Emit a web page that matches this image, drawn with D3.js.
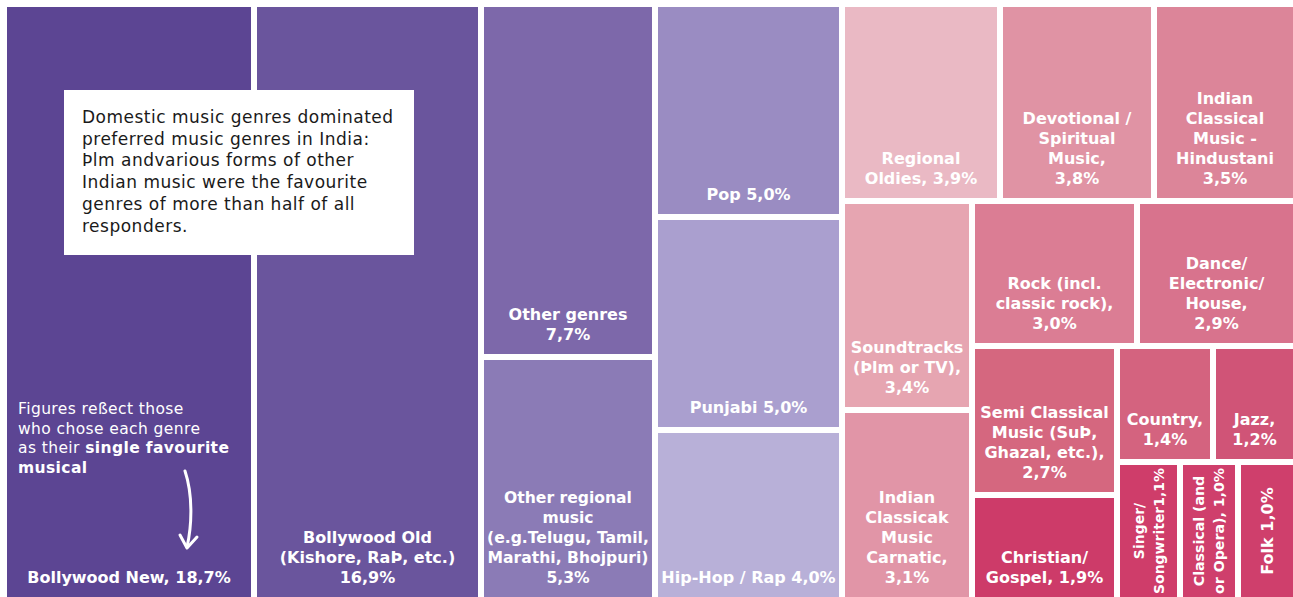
<!DOCTYPE html>
<html>
<head>
<meta charset="utf-8">
<script src="https://cdn.jsdelivr.net/npm/d3@7"></script>
<style>
    html, body { margin: 0; padding: 0; background: #fff; }
    svg { display: block; }
    .lbl { font-family: "DejaVu Sans", sans-serif; font-weight: bold; fill: #fff; }
    .note { font-family: "DejaVu Sans", sans-serif; }
</style>
</head>
<body>
<div id="chart"></div>
<script>
var WIDTH = 1293, HEIGHT = 597,
    LEFT = 7, TOP = 7;

// genres, shares (%) and colours
var genres = [
    "Bollywood New", "Bollywood Old", "Other genres", "Other regional music",
    "Pop", "Punjabi", "Hip-Hop / Rap",
    "Regional Oldies", "Devotional / Spiritual Music", "Indian Classical Music - Hindustani",
    "Soundtracks", "Indian Classical Music Carnatic",
    "Rock", "Dance/Electronic/House",
    "Semi Classical Music", "Christian/Gospel",
    "Country", "Jazz",
    "Singer/Songwriter", "Classical", "Folk"
];
var values = [
    18.7, 16.9, 7.7, 5.3,
    5.0, 5.0, 4.0,
    3.9, 3.8, 3.5,
    3.4, 3.1,
    3.0, 2.9,
    2.7, 1.9,
    1.4, 1.2,
    1.1, 1.0, 1.0
];
var colors = [
    "#5c4593", "#6a559d", "#7d68aa", "#8b7bb6",
    "#9a8cc2", "#aa9fcf", "#b8b0d8",
    "#eab9c4", "#e093a4", "#dc8599",
    "#e6a5b1", "#e195a7",
    "#db7d94", "#d8738d",
    "#d5677f", "#cd3b69",
    "#d4637f", "#d05477",
    "#cf3d6a", "#cf3f6c", "#cf3f6c"
];
// label lines, {v} = share
var labels = [
    ["Bollywood New, {v}"],
    ["Bollywood Old", "(Kishore, RaÞ, etc.)", "{v}"],
    ["Other genres", "{v}"],
    ["Other regional", "music", "(e.g.Telugu, Tamil,", "Marathi, Bhojpuri)", "{v}"],
    ["Pop {v}"],
    ["Punjabi {v}"],
    ["Hip-Hop / Rap {v}"],
    ["Regional", "Oldies, {v}"],
    ["Devotional /", "Spiritual", "Music,", "{v}"],
    ["Indian", "Classical", "Music -", "Hindustani", "{v}"],
    ["Soundtracks", "(Þlm or TV),", "{v}"],
    ["Indian", "Classicak", "Music", "Carnatic,", "{v}"],
    ["Rock (incl.", "classic rock),", "{v}"],
    ["Dance/", "Electronic/", "House,", "{v}"],
    ["Semi Classical", "Music (SuÞ,", "Ghazal, etc.),", "{v}"],
    ["Christian/", "Gospel, {v}"],
    ["Country,", "{v}"],
    ["Jazz,", "{v}"],
    ["Singer/", "Songwriter{v}"],
    ["Classical (and", "or Opera),  {v}"],
    ["Folk {v}"]
];
// labels written bottom-to-top
var rotated = [18, 19, 20];

// nesting of the blocks (index into genres), split direction alternates by depth
var nesting = [0, 1, [2, 3], [4, 5, 6],
    [[7, 8, 9],
     [[10, 11],
      [[12, 13],
       [[14, 15],
        [[16, 17], [18, 19, 20]]]]]]];

var noteLines = [
    "Domestic music genres dominated",
    "preferred music genres in India:",
    "Þlm andvarious forms of other",
    "Indian music were the favourite",
    "genres of more than half of all",
    "responders."
];

function fmt(v) {
    return v.toFixed(1).replace(".", ",") + "%";
}

function toNode(x) {
    return Array.isArray(x) ? { children: x.map(toNode) } : { i: x };
}

var svg = d3.select("#chart").append("svg")
    .attr("width", WIDTH)
    .attr("height", HEIGHT);

var root = d3.hierarchy(toNode(nesting))
    .sum(function (d) { return d.i !== undefined ? values[d.i] : 0; });

d3.treemap()
    .tile(d3.treemapSliceDice)
    .size([WIDTH - LEFT, HEIGHT - TOP])
    .paddingInner(6)
    .round(true)(root);

var map = svg.append("g").attr("transform", "translate(" + LEFT + "," + TOP + ")");

var cell = map.selectAll("g.cell")
    .data(root.leaves())
    .enter().append("g")
    .attr("class", "cell");

cell.append("rect")
    .attr("x", function (d) { return d.x0; })
    .attr("y", function (d) { return d.y0; })
    .attr("width", function (d) { return d.x1 - d.x0; })
    .attr("height", function (d) { return d.y1 - d.y0; })
    .attr("fill", function (d) { return colors[d.data.i]; });

var LINE = 20, FS = 16, PAD = 14;

cell.each(function (d) {
    var i = d.data.i,
        g = d3.select(this),
        lines = labels[i].map(function (s) { return s.replace("{v}", fmt(values[i])); }),
        rot = rotated.indexOf(i) >= 0,
        n = lines.length,
        w = d.x1 - d.x0, h = d.y1 - d.y0;

    var txt = g.append("text").attr("class", "lbl")
        .attr("text-anchor", "middle")
        .style("font-size", FS + "px");

    lines.forEach(function (s) { txt.append("tspan").text(s); });

    // shrink the label if a line does not fit
    var maxW = 0;
    txt.selectAll("tspan").each(function () {
        maxW = Math.max(maxW, this.getComputedTextLength());
    });
    var avail = (rot ? h : w) - 6,
        size = maxW > avail ? FS * avail / maxW : FS;
    txt.style("font-size", size + "px");

    if (rot) {
        var cx = (d.x0 + d.x1) / 2, cy = (d.y0 + d.y1) / 2;
        txt.attr("transform", "translate(" + cx + "," + cy + ") rotate(-90)");
        txt.selectAll("tspan")
            .attr("x", 0)
            .attr("y", function (s, k) { return (k - (n - 1) / 2) * LINE + size * 0.36; });
    } else {
        var x = (d.x0 + d.x1) / 2;
        txt.selectAll("tspan")
            .attr("x", x)
            .attr("y", function (s, k) { return d.y1 - PAD - (n - 1 - k) * LINE; });
    }
});

// white note box
var note = svg.append("g");
note.append("rect")
    .attr("x", 64).attr("y", 90)
    .attr("width", 350).attr("height", 165)
    .attr("fill", "#fff");

note.append("text").attr("class", "note")
    .style("font-size", "17px")
    .style("letter-spacing", "0.5px")
    .attr("fill", "#1a1a1a")
    .selectAll("tspan")
    .data(noteLines).enter()
    .append("tspan")
    .attr("x", 82)
    .attr("y", function (d, k) { return 123 + k * 21.7; })
    .text(function (d) { return d; });

// left annotation with arrow
var side = svg.append("text").attr("class", "note")
    .style("font-size", "15.5px")
    .style("letter-spacing", "0.4px")
    .attr("fill", "#fff");
side.append("tspan").attr("x", 18).attr("y", 414).text("Figures reßect those");
side.append("tspan").attr("x", 18).attr("y", 433.5).text("who chose each genre");
side.append("tspan").attr("x", 18).attr("y", 453).text("as their ");
side.append("tspan").attr("font-weight", "bold").text("single favourite");
side.append("tspan").attr("x", 18).attr("y", 472.5).attr("font-weight", "bold").text("musical");

svg.append("path")
    .attr("d", "M185,471 C193,495 192,525 187,547")
    .attr("fill", "none").attr("stroke", "#fff")
    .attr("stroke-width", 3).attr("stroke-linecap", "round");
svg.append("path")
    .attr("d", "M180,535 L187,548 L197,537")
    .attr("fill", "none").attr("stroke", "#fff")
    .attr("stroke-width", 3).attr("stroke-linecap", "round").attr("stroke-linejoin", "round");
</script>
</body>
</html>
